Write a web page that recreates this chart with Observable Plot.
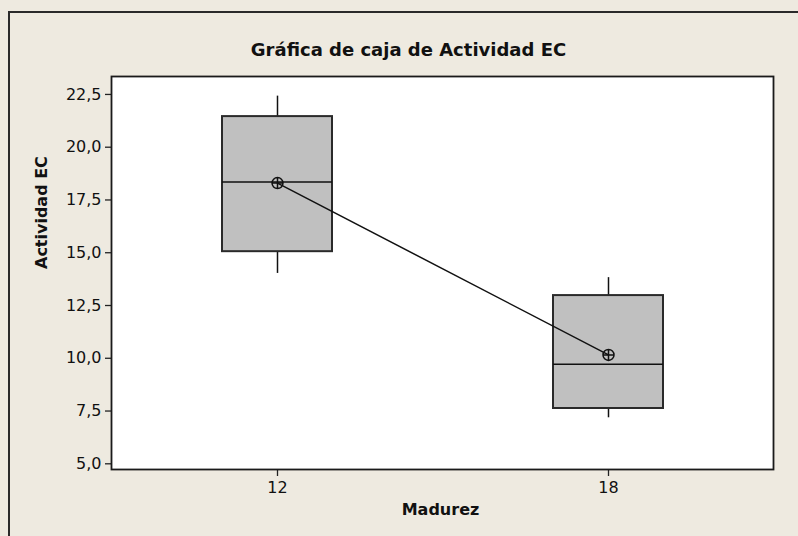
<!DOCTYPE html>
<html>
<head>
<meta charset="utf-8">
<script src="https://cdn.jsdelivr.net/npm/d3@7"></script>
<script src="https://cdn.jsdelivr.net/npm/@observablehq/plot@0.6"></script>
<style>
  html, body { margin: 0; padding: 0; width: 798px; height: 536px; overflow: hidden; background: #EEEAE0; }
  #frame { position: absolute; left: 8px; top: 11px; width: 820px; height: 560px; border-left: 2px solid #2a2a2a; border-top: 2px solid #2a2a2a; }
  #chart { position: absolute; left: 0; top: 0; }
</style>
</head>
<body>
<div id="frame"></div>
<div id="chart"></div>
<script>
// ---- data ----
const madurez = ["12", "18"];
const whiskerLow = [14.02, 7.18];
const q1 = [15.05, 7.62];
const median = [18.35, 9.72];
const q3 = [21.45, 12.97];
const whiskerHigh = [22.42, 13.82];
const mean = [18.3, 10.16];
const yTicks = [5, 7.5, 10, 12.5, 15, 17.5, 20, 22.5];

const titleText = "Gráfica de caja de Actividad EC";
const xLabel = "Madurez";
const yLabel = "Actividad EC";

const rows = madurez.map((m, i) => ({
  m, lo: whiskerLow[i], q1: q1[i], med: median[i], q3: q3[i], hi: whiskerHigh[i], mean: mean[i]
}));

const fmt = d => d.toFixed(1).replace(".", ",");

// circle with a cross (Minitab mean symbol)
const circlePlus = {
  draw(context, size) {
    const r = Math.sqrt(size / Math.PI);
    context.moveTo(r, 0);
    context.arc(0, 0, r, 0, 2 * Math.PI);
    context.moveTo(-r, 0);
    context.lineTo(r, 0);
    context.moveTo(0, -r);
    context.lineTo(0, r);
  }
};

const chart = Plot.plot({
  width: 798,
  height: 536,
  marginLeft: 111,
  marginRight: 25,
  marginTop: 76,
  marginBottom: 67,
  style: { background: "transparent", fontFamily: "DejaVu Sans", fontSize: "16px", color: "#111" },
  x: { type: "band", domain: madurez, paddingInner: 0.668, paddingOuter: 0.334, label: null },
  y: { domain: [4.73, 23.35], label: null },
  marks: [
    Plot.frame({ fill: "white" }),
    Plot.axisY({ ticks: yTicks, tickFormat: fmt, tickSize: 6, tickPadding: 4, fontSize: 16, stroke: "#222", strokeWidth: 1.3 }),
    Plot.axisX({ tickSize: 7, tickPadding: 5, fontSize: 16, stroke: "#222", strokeWidth: 1.3 }),
    // whiskers
    Plot.ruleX(rows, { x: "m", y1: "lo", y2: "q1", stroke: "#111", strokeWidth: 1.5 }),
    Plot.ruleX(rows, { x: "m", y1: "q3", y2: "hi", stroke: "#111", strokeWidth: 1.5 }),
    // boxes
    Plot.barY(rows, { x: "m", y1: "q1", y2: "q3", fill: "#C0C0C0", stroke: "#2a2a2a", strokeWidth: 2 }),
    // medians
    Plot.tickY(rows, { x: "m", y: "med", stroke: "#111", strokeWidth: 1.5 }),
    // mean connect line
    Plot.lineY(rows, { x: "m", y: "mean", stroke: "#111", strokeWidth: 1.5 }),
    Plot.dot(rows, { x: "m", y: "mean", r: 5.5, symbol: circlePlus, stroke: "#111", strokeWidth: 1.5, fill: "none" }),
    Plot.frame({ stroke: "#1a1a1a", strokeWidth: 1.8 }),
    // title and axis labels
    Plot.text([titleText], { text: d => d, frameAnchor: "top", dx: -34, dy: -26, lineAnchor: "middle", fontSize: 18, fontWeight: "bold", fill: "#111" }),
    Plot.text([xLabel], { text: d => d, frameAnchor: "bottom", dx: -2, dy: 40.5, lineAnchor: "middle", fontSize: 16, fontWeight: "bold", fill: "#111" }),
    Plot.text([yLabel], { text: d => d, frameAnchor: "left", rotate: -90, dx: -69.3, dy: -4, lineAnchor: "middle", fontSize: 16, fontWeight: "bold", fill: "#111" })
  ]
});
document.getElementById("chart").appendChild(chart);
</script>
</body>
</html>
